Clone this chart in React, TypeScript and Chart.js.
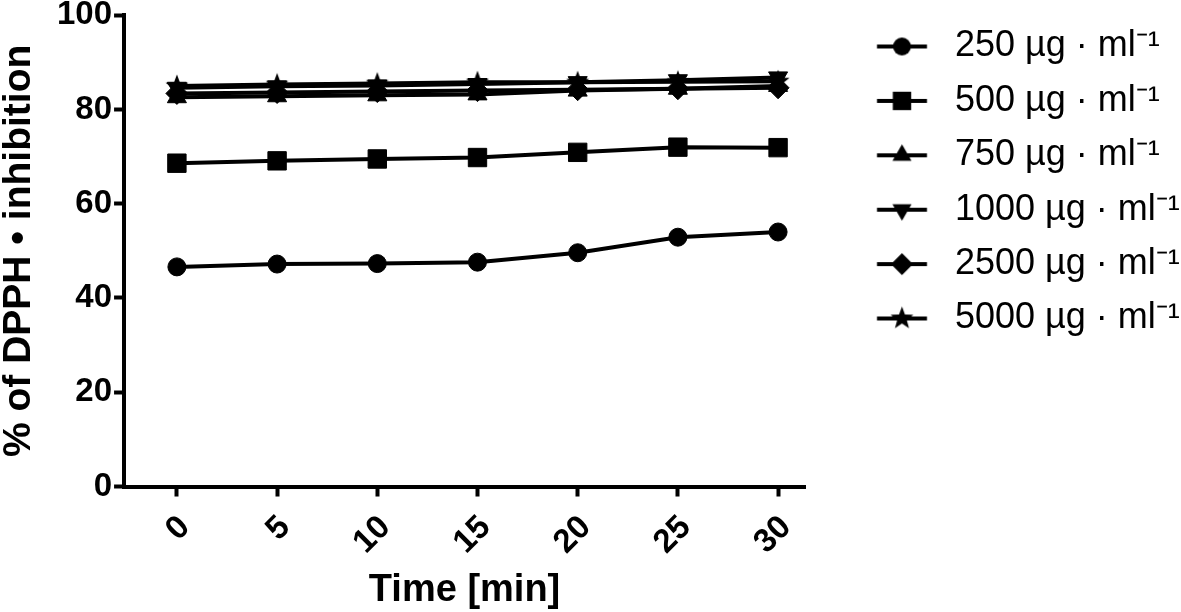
import React, { useEffect, useRef } from 'react';
import { Chart, registerables } from 'chart.js';

Chart.register(...registerables);

const times = [0, 5, 10, 15, 20, 25, 30];
const xTickValues = [0, 5, 10, 15, 20, 25, 30];
const yTickValues = [0, 20, 40, 60, 80, 100];

const seriesLabels = [
  '250 µg · ml⁻¹',
  '500 µg · ml⁻¹',
  '750 µg · ml⁻¹',
  '1000 µg · ml⁻¹',
  '2500 µg · ml⁻¹',
  '5000 µg · ml⁻¹',
];

const c250 = [46.6, 47.2, 47.3, 47.6, 49.6, 52.9, 54.0];
const c500 = [68.6, 69.1, 69.5, 69.8, 70.9, 72.0, 71.9];
const c750 = [82.6, 82.8, 83.0, 83.2, 84.0, 84.4, 85.0];
const c1000 = [84.6, 84.9, 85.1, 85.4, 85.8, 86.2, 86.8];
const c2500 = [83.4, 83.6, 83.8, 84.0, 84.2, 84.4, 84.6];
const c5000 = [85.0, 85.3, 85.5, 85.8, 85.8, 85.9, 86.0];

const xTitle = 'Time [min]';
const yTitle = '% of DPPH • inhibition';

const FONT = "'Liberation Sans', Arial, sans-serif";

type Kind = 'circle' | 'square' | 'triUp' | 'triDown' | 'diamond' | 'star';
const kinds: Kind[] = ['circle', 'square', 'triUp', 'triDown', 'diamond', 'star'];

function drawShape(ctx: CanvasRenderingContext2D, kind: Kind, cx: number, cy: number) {
  ctx.fillStyle = '#000';
  ctx.beginPath();
  if (kind === 'circle') {
    ctx.arc(cx, cy, 9, 0, Math.PI * 2);
  } else if (kind === 'square') {
    ctx.rect(cx - 9.2, cy - 9.2, 18.4, 18.4);
  } else if (kind === 'triUp' || kind === 'triDown') {
    const r = 11;
    const s = kind === 'triUp' ? 1 : -1;
    ctx.moveTo(cx, cy - s * r);
    ctx.lineTo(cx + r * Math.sin((2 * Math.PI) / 3), cy + s * r * 0.5);
    ctx.lineTo(cx - r * Math.sin((2 * Math.PI) / 3), cy + s * r * 0.5);
    ctx.closePath();
  } else if (kind === 'diamond') {
    const r = 11;
    ctx.moveTo(cx, cy - r);
    ctx.lineTo(cx + r, cy);
    ctx.lineTo(cx, cy + r);
    ctx.lineTo(cx - r, cy);
    ctx.closePath();
  } else {
    const R = 12;
    const ri = 5;
    for (let i = 0; i < 10; i++) {
      const a = -Math.PI / 2 + (i * Math.PI) / 5;
      const rr = i % 2 === 0 ? R : ri;
      const px = cx + rr * Math.cos(a);
      const py = cy + rr * Math.sin(a);
      if (i === 0) ctx.moveTo(px, py);
      else ctx.lineTo(px, py);
    }
    ctx.closePath();
  }
  ctx.fill();
}

function makeStar(): HTMLCanvasElement {
  const c = document.createElement('canvas');
  c.width = 26;
  c.height = 26;
  const ctx = c.getContext('2d')!;
  drawShape(ctx, 'star', 13, 13.5);
  return c;
}

// layout constants for the legend / plot area
const CHART_RIGHT = 805;
const LEG_PAD = 28.5;
const LEG_FONT = 36;
const LEG_TEXT_X = 955;
const LEG_BOX_W = LEG_TEXT_X - CHART_RIGHT - LEG_PAD - LEG_FONT / 2;
const LEG_LINE_START = 877;
const LEG_LINE_END = 927;

function makeLegendIcon(kind: Kind): HTMLCanvasElement {
  const c = document.createElement('canvas');
  c.width = Math.round(LEG_BOX_W);
  c.height = 26;
  const ctx = c.getContext('2d')!;
  const left = CHART_RIGHT + LEG_PAD + LEG_BOX_W / 2 - c.width / 2;
  const a = LEG_LINE_START - left;
  const b = LEG_LINE_END - left;
  ctx.strokeStyle = '#000';
  ctx.lineWidth = 4;
  ctx.beginPath();
  ctx.moveTo(a, 13);
  ctx.lineTo(b, 13);
  ctx.stroke();
  drawShape(ctx, kind, (a + b) / 2, 13);
  return c;
}

export default function App() {
  const ref = useRef<HTMLCanvasElement | null>(null);

  useEffect(() => {
    if (!ref.current) return;
    const star = makeStar();
    const series = [c250, c500, c750, c1000, c2500, c5000];
    const styles: any[] = ['circle', 'rect', 'triangle', 'triangle', 'rectRot', star];
    const radii = [9, 13, 11, 11, 11, 12];
    const rotations = [0, 0, 0, 180, 0, 0];
    const icons = kinds.map((k) => makeLegendIcon(k));

    // measure the widest legend text to place the legend box
    const mctx = document.createElement('canvas').getContext('2d')!;
    mctx.font = `${LEG_FONT}px ${FONT}`;
    const textW = Math.max(...seriesLabels.map((t) => mctx.measureText(t).width));
    const legendW = LEG_PAD + LEG_BOX_W + LEG_FONT / 2 + textW + 10;
    const padRight = 1181 - CHART_RIGHT - legendW;

    const xPx = 20.1;
    const xMin = -53 / xPx;
    const xMax = 30 + (CHART_RIGHT - 778) / xPx;

    const datasets = series.map((vals, i) => ({
      label: seriesLabels[i],
      data: vals.map((v, j) => ({ x: times[j], y: v })),
      borderColor: '#000',
      backgroundColor: '#000',
      borderWidth: 4,
      tension: 0,
      pointStyle: styles[i],
      pointRadius: radii[i],
      pointRotation: rotations[i],
      pointBackgroundColor: '#000',
      pointBorderColor: '#000',
      pointBorderWidth: 1,
    }));

    const chart = new Chart(ref.current, {
      type: 'line',
      data: { datasets },
      options: {
        animation: false,
        responsive: true,
        maintainAspectRatio: false,
        layout: { padding: { top: 0, left: 0, right: padRight, bottom: 0 } },
        plugins: {
          tooltip: { enabled: false },
          legend: {
            display: true,
            position: 'right',
            align: 'start',
            maxWidth: 600,
            labels: {
              usePointStyle: true,
              pointStyleWidth: LEG_BOX_W,
              padding: LEG_PAD,
              color: '#000',
              font: { family: FONT, size: LEG_FONT, lineHeight: 25.9 / LEG_FONT },
              generateLabels: () =>
                seriesLabels.map((t, i) => ({
                  text: [t] as any,
                  fillStyle: '#000',
                  strokeStyle: '#000',
                  lineWidth: 0,
                  pointStyle: icons[i] as any,
                  hidden: false,
                  datasetIndex: i,
                  fontColor: '#000',
                })),
            },
          },
        },
        scales: {
          x: {
            type: 'linear',
            min: xMin,
            max: xMax,
            afterBuildTicks: (scale: any) => {
              scale.ticks = xTickValues.map((v) => ({ value: v }));
            },
            ticks: {
              color: '#000',
              font: { family: FONT, size: 33, weight: 'bold', lineHeight: 1.0 },
              minRotation: 45,
              maxRotation: 45,
              padding: 14,
              labelOffset: 8,
              autoSkip: false,
            },
            grid: {
              display: true,
              drawOnChartArea: false,
              drawTicks: true,
              tickLength: 10,
              tickWidth: 4,
              tickColor: '#000',
            },
            border: { display: true, width: 4, color: '#000' },
            title: {
              display: true,
              text: xTitle,
              color: '#000',
              font: { family: FONT, size: 38, weight: 'bold', lineHeight: 0.9 },
              padding: { top: 0, bottom: 4 },
            },
          },
          y: {
            type: 'linear',
            min: 0,
            max: 100,
            afterBuildTicks: (scale: any) => {
              scale.ticks = yTickValues.map((v) => ({ value: v }));
            },
            ticks: {
              color: '#000',
              font: { family: FONT, size: 33, weight: 'bold', lineHeight: 0.8 },
              padding: 2,
            },
            grid: {
              display: true,
              drawOnChartArea: false,
              drawTicks: true,
              tickLength: 10,
              tickWidth: 4,
              tickColor: '#000',
            },
            border: { display: true, width: 4, color: '#000' },
            title: {
              display: true,
              text: yTitle,
              color: '#000',
              font: { family: FONT, size: 39, weight: 'bold', lineHeight: 1.0 },
              padding: { top: 0, bottom: 16 },
            },
          },
        },
      } as any,
    });
    return () => chart.destroy();
  }, []);

  return (
    <div style={{ position: 'absolute', left: 0, top: 0, width: 1181, height: 612, background: '#fff' }}>
      <canvas ref={ref} />
    </div>
  );
}
